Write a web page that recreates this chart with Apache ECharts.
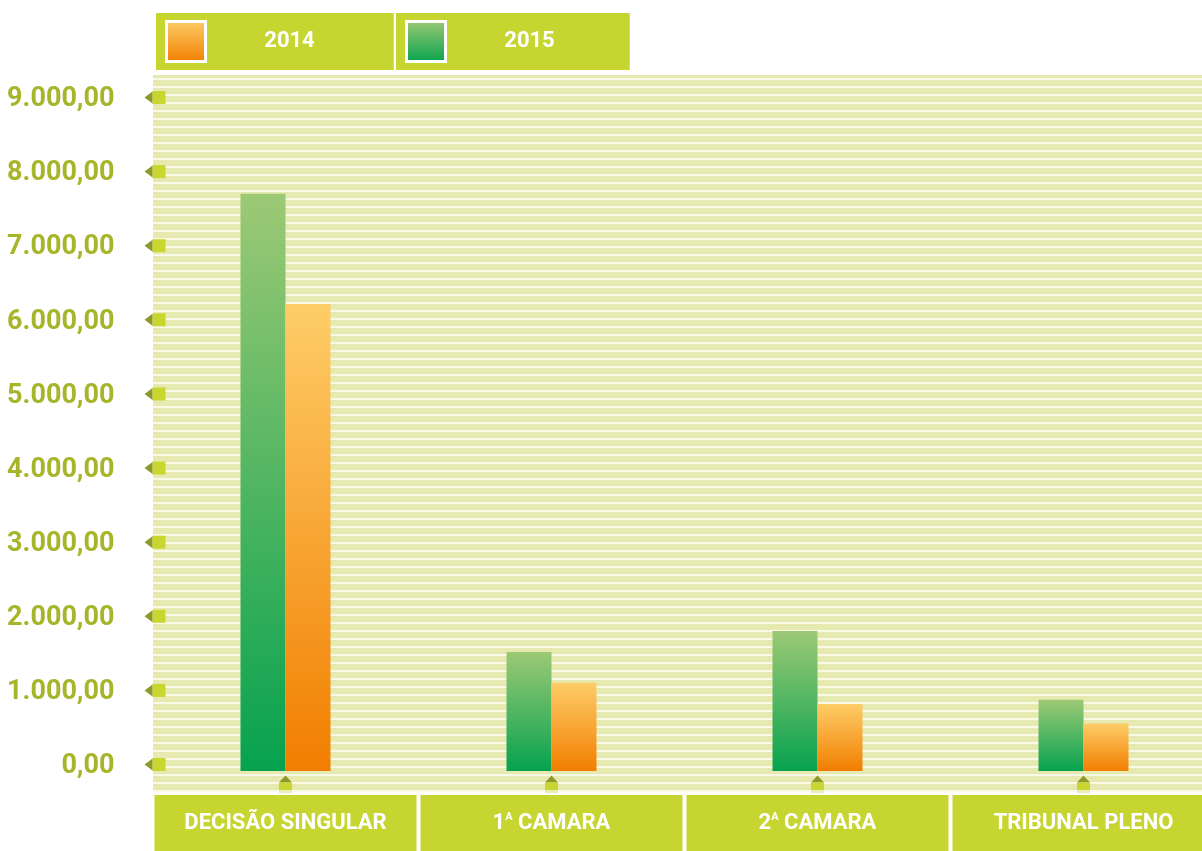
<!DOCTYPE html>
<html lang="pt-BR">

<head>
  <meta charset="utf-8">
  <title>Decisões 2014 x 2015</title>
  <script src="https://cdn.jsdelivr.net/npm/echarts@6/dist/echarts.min.js"></script>
  <style>
    html, body { margin: 0; padding: 0; background: #fff; }
    #main { width: 1202px; height: 851px; }
  </style>
</head>

<body>
  <div id="main"></div>

  <script>
    // dados
    var categories = ['DECISÃO SINGULAR', '1ª CAMARA', '2ª CAMARA', 'TRIBUNAL PLENO'];
    var values2015 = [7790, 1605, 1890, 960];
    var values2014 = [6300, 1190, 905, 640];
    var yTicks = [0, 1000, 2000, 3000, 4000, 5000, 6000, 7000, 8000, 9000];

    var lime = '#c6d530';
    var olive = '#8c9a28';

    // formato brasileiro: 9.000,00
    function fmt(v) {
      var s = String(Math.round(v));
      s = s.replace(/\B(?=(\d{3})+(?!\d))/g, '.');
      return s + ',00';
    }

    // listras do fundo
    var stripe = document.createElement('canvas');
    stripe.width = 8;
    stripe.height = 8;
    var ctx = stripe.getContext('2d');
    ctx.fillStyle = '#e7eab0';
    ctx.fillRect(0, 0, 8, 6);
    ctx.fillStyle = '#f8f9e6';
    ctx.fillRect(0, 6, 8, 2);

    var myChart = echarts.init(document.getElementById('main'));

    // caixa da legenda (uma por série)
    function legendBox(name, left, padRight) {
      return {
        data: [name],
        left: left,
        top: 13,
        orient: 'horizontal',
        icon: 'rect',
        selectedMode: false,
        backgroundColor: lime,
        padding: [7, padRight, 7, 9],
        itemWidth: 39,
        itemHeight: 40,
        itemStyle: { borderColor: '#fff', borderWidth: 3 },
        formatter: '{c|{name}}',
        textStyle: {
          rich: {
            c: {
              width: 158,
              align: 'center',
              color: '#fff',
              fontSize: 22,
              fontWeight: 'bold',
              fontFamily: 'Roboto'
            }
          }
        }
      };
    }

    var option = {
      animation: false,
      legend: [legendBox('2014', 156, 79), legendBox('2015', 396, 75)],
      graphic: [{
        type: 'rect',
        z: -10,
        silent: true,
        shape: { x: 153, y: 75, width: 1049, height: 717 },
        style: { fill: { image: stripe, repeat: 'repeat' } }
      }],
      grid: {
        left: 152.5,
        right: -14.5,
        top: 104,
        bottom: 80,
        containLabel: false,
        outerBoundsMode: 'none'
      },
      xAxis: {
        type: 'category',
        data: categories,
        axisLine: { show: false },
        axisTick: { show: false },
        splitLine: { show: false },
        axisLabel: {
          interval: 0,
          margin: 24,
          width: 262,
          padding: [17, 0, 17, 0],
          lineHeight: 22,
          align: 'center',
          backgroundColor: lime,
          color: '#fff',
          fontSize: 22,
          fontWeight: 'bold',
          fontFamily: 'Roboto',
          formatter: function (v) {
            return v.replace('ª', '{s|A}');
          },
          rich: {
            s: {
              fontSize: 11,
              fontWeight: 'bold',
              fontFamily: 'Roboto',
              color: '#fff',
              verticalAlign: 'top',
              lineHeight: 14
            }
          }
        }
      },
      yAxis: {
        type: 'value',
        min: 0,
        max: 9000,
        interval: 1000,
        axisLine: { show: false },
        axisTick: { show: false },
        splitLine: { show: false },
        axisLabel: {
          margin: 38,
          verticalAlign: 'bottom',
          lineHeight: 9,
          color: '#a6b52a',
          fontSize: 27,
          fontWeight: 'bold',
          fontFamily: 'Roboto',
          formatter: fmt
        }
      },
      series: [{
        name: '2015',
        type: 'bar',
        barWidth: 45,
        barGap: 0,
        itemStyle: {
          color: {
            type: 'linear', x: 0, y: 0, x2: 0, y2: 1,
            colorStops: [{ offset: 0, color: '#9dc975' }, { offset: 1, color: '#06a24f' }]
          }
        },
        data: values2015
      }, {
        name: '2014',
        type: 'bar',
        barWidth: 45,
        barGap: 0,
        itemStyle: {
          color: {
            type: 'linear', x: 0, y: 0, x2: 0, y2: 1,
            colorStops: [{ offset: 0, color: '#fecd68' }, { offset: 1, color: '#f17e00' }]
          }
        },
        data: values2014
      }, {
        // marcadores do eixo y
        type: 'custom',
        silent: true,
        z: 5,
        data: yTicks.map(function (v) { return [0, v]; }),
        renderItem: function (params, api) {
          var y = api.coord([0, api.value(1)])[1];
          var x0 = params.coordSys.x;
          return {
            type: 'group',
            children: [{
              type: 'rect',
              shape: { x: x0, y: y - 13, width: 13, height: 13 },
              style: { fill: '#c9d62f' }
            }, {
              type: 'polygon',
              shape: { points: [[x0 - 8, y - 6.5], [x0, y - 12.5], [x0, y - 0.5]] },
              style: { fill: olive }
            }]
          };
        }
      }, {
        // marcadores do eixo x
        type: 'custom',
        silent: true,
        z: 5,
        data: categories.map(function (c, i) { return [i, 0]; }),
        renderItem: function (params, api) {
          var p = api.coord([api.value(0), 0]);
          var cx = p[0], y0 = p[1];
          return {
            type: 'group',
            children: [{
              type: 'polygon',
              shape: { points: [[cx, y0 + 4.5], [cx - 6.5, y0 + 11.5], [cx + 6.5, y0 + 11.5]] },
              style: { fill: olive }
            }, {
              type: 'rect',
              shape: { x: cx - 6.5, y: y0 + 11.5, width: 13, height: 7.5 },
              style: { fill: '#c9d62f' }
            }, {
              type: 'rect',
              shape: { x: cx - 6.5, y: y0 + 19, width: 13, height: 3 },
              style: { fill: '#e9eeb8' }
            }]
          };
        }
      }]
    };

    myChart.setOption(option);
  </script>
</body>

</html>
